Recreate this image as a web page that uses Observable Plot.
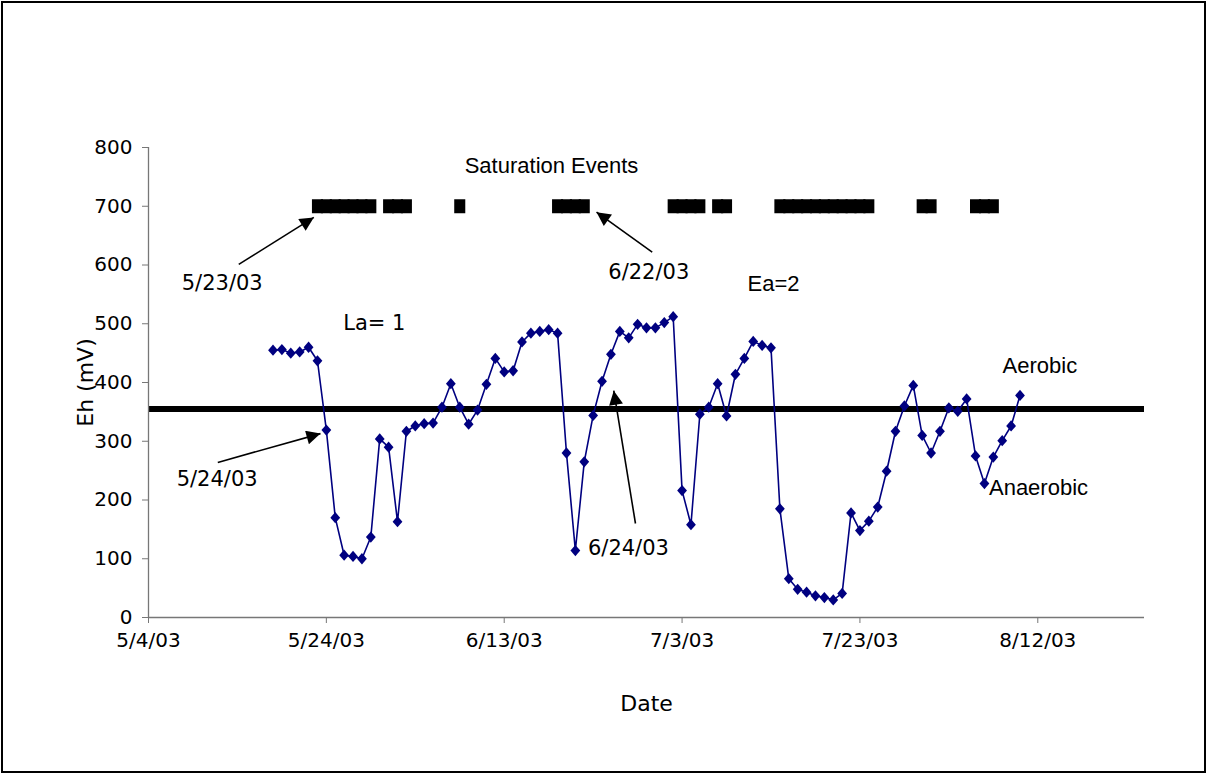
<!DOCTYPE html>
<html><head><meta charset="utf-8">
<script src="https://cdn.jsdelivr.net/npm/d3@7"></script>
<script src="https://cdn.jsdelivr.net/npm/@observablehq/plot@0.6"></script>
<style>
html,body{margin:0;padding:0;background:#fff;}
#wrap{position:relative;width:1207px;height:774px;overflow:hidden;}
#border{position:absolute;left:1px;top:1px;right:1px;bottom:1px;border:2px solid #000;pointer-events:none;}
</style></head><body><div id="wrap"><div id="border"></div></div>
<script>
// ---- data ----
const dates = [
"2003-05-18","2003-05-19","2003-05-20","2003-05-21","2003-05-22","2003-05-23","2003-05-24","2003-05-25","2003-05-26","2003-05-27","2003-05-28","2003-05-29","2003-05-30","2003-05-31",
"2003-06-01","2003-06-02","2003-06-03","2003-06-04","2003-06-05","2003-06-06","2003-06-07","2003-06-08","2003-06-09","2003-06-10","2003-06-11","2003-06-12","2003-06-13","2003-06-14","2003-06-15","2003-06-16","2003-06-17","2003-06-18","2003-06-19","2003-06-20","2003-06-21","2003-06-22","2003-06-23","2003-06-24","2003-06-25","2003-06-26","2003-06-27","2003-06-28","2003-06-29","2003-06-30",
"2003-07-01","2003-07-02","2003-07-03","2003-07-04","2003-07-05","2003-07-06","2003-07-07","2003-07-08","2003-07-09","2003-07-10","2003-07-11","2003-07-12","2003-07-13","2003-07-14","2003-07-15","2003-07-16","2003-07-17","2003-07-18","2003-07-19","2003-07-20","2003-07-21","2003-07-22","2003-07-23","2003-07-24","2003-07-25","2003-07-26","2003-07-27","2003-07-28","2003-07-29","2003-07-30","2003-07-31",
"2003-08-01","2003-08-02","2003-08-03","2003-08-04","2003-08-05","2003-08-06","2003-08-07","2003-08-08","2003-08-09","2003-08-10"];
const eh = [
455,456,450,452,460,437,319,170,106,104,100,137,304,290,
163,317,326,330,331,358,398,358,329,353,397,441,418,420,469,484,487,490,484,280,114,265,344,402,448,487,476,499,493,493,
502,512,216,158,346,358,398,343,414,441,470,463,459,185,66,48,43,37,34,30,41,178,148,164,188,249,317,360,395,310,280,
317,357,351,372,275,228,273,301,326,378];
const saturationDates = [
"2003-05-23","2003-05-24","2003-05-25","2003-05-26","2003-05-27","2003-05-28","2003-05-29",
"2003-05-31","2003-06-01","2003-06-02",
"2003-06-08",
"2003-06-19","2003-06-20","2003-06-21","2003-06-22",
"2003-07-02","2003-07-03","2003-07-04","2003-07-05",
"2003-07-07","2003-07-08",
"2003-07-14","2003-07-15","2003-07-16","2003-07-17","2003-07-18","2003-07-19","2003-07-20","2003-07-21","2003-07-22","2003-07-23","2003-07-24",
"2003-07-30","2003-07-31",
"2003-08-05","2003-08-06","2003-08-07"];
const saturationLevel = 700;
const threshold = 355;
const xDomain = ["2003-05-04","2003-08-24"];
const xTicks = ["2003-05-04","2003-05-24","2003-06-13","2003-07-03","2003-07-23","2003-08-12"];
const yTicks = [0,100,200,300,400,500,600,700,800];

// annotations (x in days after 5/4/03, y in mV)
const noteText  = ["Saturation Events","Ea=2","Aerobic","Anaerobic"];
const noteDay   = [45.32, 70.28, 100.24, 100.08];
const noteValue = [768, 568, 429, 220];
const dateText  = ["5/23/03","6/22/03","La= 1","5/24/03","6/24/03"];
const dateDay   = [8.29, 56.26, 25.4, 7.72, 53.97];
const dateValue = [569, 588, 500, 235, 117];
const arrowDay1 = [10.15, 56.64, 7.79, 54.76];
const arrowVal1 = [601, 622, 264, 160];
const arrowDay2 = [18.59, 50.38, 19.34, 52.32];
const arrowVal2 = [681, 690, 313, 386];

// ---- build ----
const parse = d3.utcParse("%Y-%m-%d");
const t0 = parse(xDomain[0]);
const dayToDate = d => new Date(+t0 + d * 864e5);
const series = dates.map((d, i) => ({date: parse(d), eh: eh[i]}));
const sat = saturationDates.map(d => ({date: parse(d), v: saturationLevel}));
const notes = noteText.map((t, i) => ({t, x: dayToDate(noteDay[i]), y: noteValue[i]}));
const dnotes = dateText.map((t, i) => ({t, x: dayToDate(dateDay[i]), y: dateValue[i]}));
const arrows = arrowDay1.map((d, i) => ({x1: dayToDate(d), y1: arrowVal1[i], x2: dayToDate(arrowDay2[i]), y2: arrowVal2[i]}));

const diamond = {draw(ctx, size) { const r = Math.sqrt(size / Math.PI);
  ctx.moveTo(0, -r * 1.15); ctx.lineTo(r, 0); ctx.lineTo(0, r * 1.15); ctx.lineTo(-r, 0); ctx.closePath(); }};
const block = {draw(ctx, size) { const r = Math.sqrt(size / Math.PI);
  ctx.rect(-r * 0.79, -r, r * 1.58, 2 * r); }};

const navy = "#000080";
const chart = Plot.plot({
  width: 1207, height: 774,
  marginLeft: 148, marginRight: 63, marginTop: 147, marginBottom: 157,
  x: {type: "utc", domain: xDomain.map(parse)},
  y: {domain: [0, 800]},
  style: {fontFamily: "DejaVu Sans", fontSize: "20px", background: "#fff", color: "#000", overflow: "visible"},
  marks: [
    Plot.ruleY([threshold], {stroke: "#000", strokeWidth: 6}),
    Plot.ruleY([0], {stroke: "#777", strokeWidth: 1.3}),
    Plot.ruleX([parse(xDomain[0])], {stroke: "#777", strokeWidth: 1.3}),
    Plot.axisX({ticks: xTicks.map(parse), tickFormat: d3.utcFormat("%-m/%-d/%y"), tickSize: 6, tickPadding: 9,
      fontSize: 20, label: null, stroke: "#777", fill: "#000"}),
    Plot.axisY({ticks: yTicks, tickSize: 6, tickPadding: 10, fontSize: 20, label: null, stroke: "#777", fill: "#000"}),
    Plot.line(series, {x: "date", y: "eh", stroke: navy, strokeWidth: 1.6}),
    Plot.dot(series, {x: "date", y: "eh", symbol: diamond, r: 4.9, fill: navy, stroke: "none"}),
    Plot.dot(sat, {x: "date", y: "v", symbol: block, r: 7, fill: "#000", stroke: "none"}),
    Plot.link(arrows, {x1: "x1", y1: "y1", x2: "x2", y2: "y2", stroke: "#000", strokeWidth: 1.6}),
    Plot.text(notes, {x: "x", y: "y", text: "t", fontFamily: "Liberation Sans", fontSize: 22, fill: "#000", lineAnchor: "middle"}),
    Plot.text(dnotes, {x: "x", y: "y", text: "t", fontFamily: "DejaVu Sans", fontSize: 21, fill: "#000", lineAnchor: "middle"}),
    Plot.text(["Date"], {frameAnchor: "bottom", dy: 86, fontSize: 22, fill: "#000", textAnchor: "middle", lineAnchor: "middle"}),
    Plot.text(["Eh (mV)"], {frameAnchor: "left", dx: -63, rotate: -90, fontSize: 22, fill: "#000", textAnchor: "middle", lineAnchor: "middle"})
  ]
});

// filled arrowheads
const svg = d3.select(chart.tagName === "svg" ? chart : chart.querySelector("svg"));
svg.append("defs").append("marker")
  .attr("id", "ahead").attr("viewBox", "0 0 10 10").attr("refX", 10).attr("refY", 5)
  .attr("markerUnits", "userSpaceOnUse").attr("markerWidth", 18).attr("markerHeight", 14)
  .attr("orient", "auto")
  .append("path").attr("d", "M0,0L10,5L0,10Z").attr("fill", "#000");
svg.selectAll("g[aria-label='link'] path").attr("marker-end", "url(#ahead)");

document.getElementById("wrap").insertBefore(chart, document.getElementById("border"));
</script>
</body></html>
